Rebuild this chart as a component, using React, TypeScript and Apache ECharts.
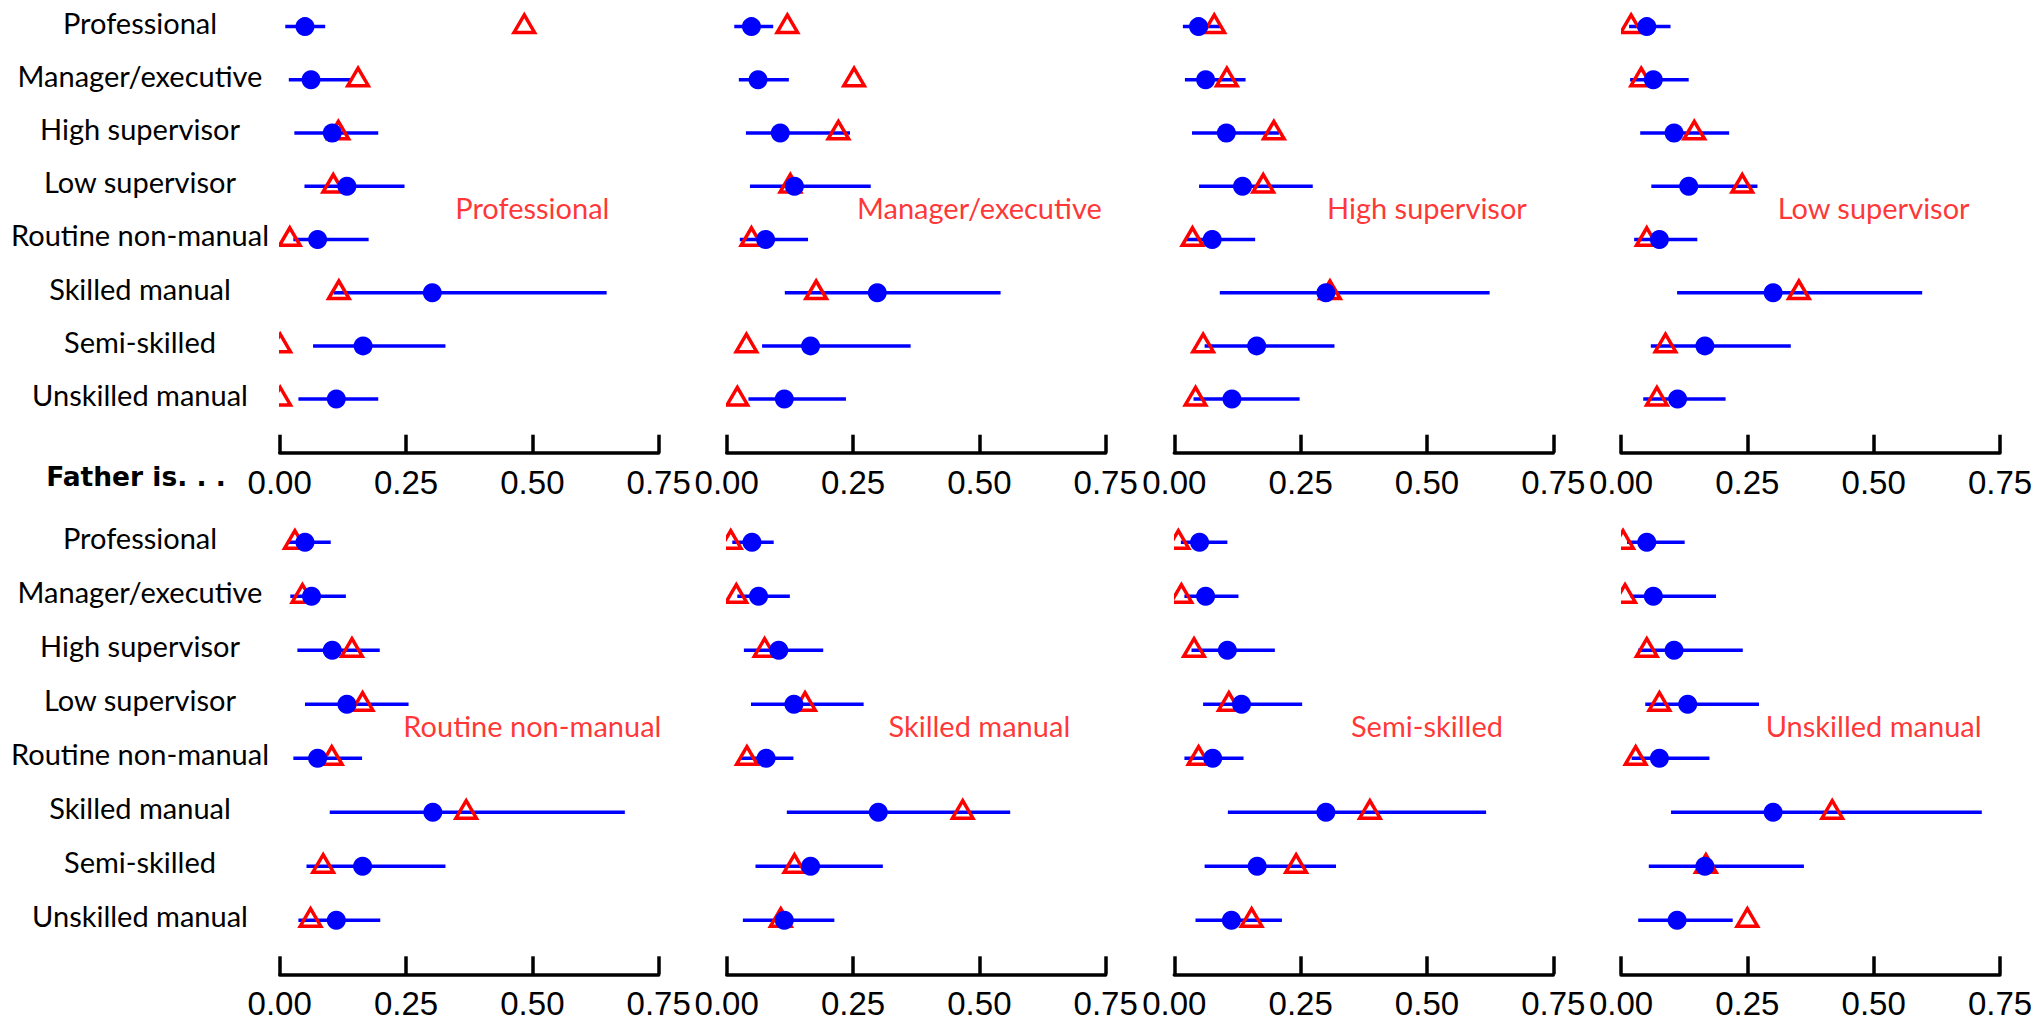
import React, { useEffect, useRef } from "react";
import * as echarts from "echarts";

// Occupational categories (rows) and panel titles (father's occupation)
const categories = [
  "Professional",
  "Manager/executive",
  "High supervisor",
  "Low supervisor",
  "Routine non-manual",
  "Skilled manual",
  "Semi-skilled",
  "Unskilled manual",
];
const panelTitles = categories;
const axisLabelText = "Father is. . .";
const xTicks = [0, 0.25, 0.5, 0.75];

// Blue dots (point estimates), one array per panel
const dotValues: number[][] = [
  [0.050, 0.062, 0.104, 0.133, 0.075, 0.302, 0.165, 0.112],
  [0.049, 0.062, 0.106, 0.134, 0.077, 0.298, 0.166, 0.114],
  [0.048, 0.062, 0.103, 0.135, 0.075, 0.300, 0.163, 0.114],
  [0.051, 0.064, 0.105, 0.134, 0.076, 0.301, 0.166, 0.112],
  [0.050, 0.063, 0.104, 0.133, 0.075, 0.303, 0.164, 0.112],
  [0.050, 0.063, 0.103, 0.133, 0.078, 0.300, 0.166, 0.114],
  [0.050, 0.062, 0.105, 0.133, 0.076, 0.300, 0.164, 0.113],
  [0.051, 0.064, 0.105, 0.132, 0.076, 0.301, 0.166, 0.111],
];
// Interval lower bounds
const lowerBounds: number[][] = [
  [0.011, 0.018, 0.029, 0.049, 0.027, 0.107, 0.066, 0.037],
  [0.015, 0.024, 0.038, 0.046, 0.026, 0.115, 0.070, 0.043],
  [0.017, 0.021, 0.035, 0.049, 0.024, 0.090, 0.060, 0.038],
  [0.016, 0.018, 0.038, 0.060, 0.026, 0.111, 0.059, 0.044],
  [0.015, 0.021, 0.035, 0.050, 0.027, 0.099, 0.053, 0.037],
  [0.011, 0.021, 0.034, 0.048, 0.026, 0.119, 0.057, 0.032],
  [0.013, 0.020, 0.034, 0.057, 0.020, 0.106, 0.060, 0.042],
  [0.012, 0.019, 0.034, 0.048, 0.021, 0.099, 0.055, 0.034],
];
// Interval upper bounds
const upperBounds: number[][] = [
  [0.090, 0.140, 0.195, 0.247, 0.176, 0.647, 0.328, 0.195],
  [0.092, 0.123, 0.244, 0.285, 0.161, 0.542, 0.364, 0.236],
  [0.092, 0.141, 0.207, 0.274, 0.160, 0.624, 0.317, 0.248],
  [0.098, 0.134, 0.214, 0.270, 0.151, 0.596, 0.336, 0.207],
  [0.101, 0.131, 0.198, 0.255, 0.163, 0.683, 0.328, 0.199],
  [0.093, 0.125, 0.191, 0.271, 0.132, 0.561, 0.309, 0.213],
  [0.105, 0.127, 0.199, 0.253, 0.137, 0.617, 0.320, 0.213],
  [0.126, 0.188, 0.241, 0.273, 0.175, 0.714, 0.362, 0.221],
];
// Red triangles (observed)
const triangleValues: number[][] = [
  [0.484, 0.155, 0.116, 0.106, 0.020, 0.117, 0.001, 0.001],
  [0.120, 0.252, 0.221, 0.126, 0.049, 0.177, 0.039, 0.021],
  [0.079, 0.104, 0.197, 0.176, 0.036, 0.308, 0.057, 0.042],
  [0.020, 0.040, 0.145, 0.240, 0.051, 0.352, 0.088, 0.071],
  [0.030, 0.045, 0.143, 0.164, 0.103, 0.369, 0.086, 0.061],
  [0.008, 0.019, 0.075, 0.155, 0.040, 0.467, 0.134, 0.107],
  [0.008, 0.014, 0.039, 0.108, 0.048, 0.387, 0.241, 0.153],
  [0.004, 0.008, 0.051, 0.076, 0.029, 0.418, 0.168, 0.250],
];

const BLUE = "#0000ff";
const RED = "#ff0000";
const LABEL_FONT = "Lato, 'Liberation Sans', sans-serif";
const BOLD_FONT = "'DejaVu Sans', 'Liberation Sans', sans-serif";
const TICK_FONT = "'Liberation Sans', Arial, sans-serif";

const gridLefts = [279.7, 726.7, 1174.3, 1621];
const gridTops = [-6.3, 515.3];
const gridWidth = 379;
const rowBand = 54;
const TRI_W = 20.5;
const TRI_H = 17.5;

function buildOption() {
  const grid: any[] = [];
  const xAxis: any[] = [];
  const yAxis: any[] = [];
  const series: any[] = [];

  for (let p = 0; p < 8; p++) {
    const row = Math.floor(p / 4);
    const col = p % 4;
    const left = gridLefts[col];
    grid.push({
      left,
      top: gridTops[row],
      width: gridWidth,
      height: rowBand * categories.length,
      containLabel: false,
    });
    xAxis.push({
      type: "value",
      gridIndex: p,
      min: xTicks[0],
      max: xTicks[xTicks.length - 1],
      interval: 0.25,
      offset: 27,
      splitLine: { show: false },
      axisLine: { show: true, lineStyle: { color: "#000", width: 3.5 } },
      axisTick: { show: true, inside: true, length: 18, lineStyle: { color: "#000", width: 3.5 } },
      axisLabel: {
        show: true,
        margin: 13,
        color: "#000",
        fontSize: 33,
        fontFamily: TICK_FONT,
        formatter: (v: number) => v.toFixed(2),
      },
    });
    yAxis.push({
      type: "category",
      gridIndex: p,
      data: categories,
      inverse: true,
      boundaryGap: true,
      axisLine: { show: false },
      axisTick: { show: false },
      splitLine: { show: false },
      axisLabel: {
        show: col === 0,
        align: "center",
        verticalAlign: "bottom",
        lineHeight: 9,
        margin: left - 140,
        color: "#000",
        fontSize: 29,
        fontFamily: LABEL_FONT,
      },
    });

    // interval whiskers
    series.push({
      type: "custom",
      xAxisIndex: p,
      yAxisIndex: p,
      clip: true,
      silent: true,
      encode: { x: [0, 1], y: 2 },
      data: categories.map((_, i) => [lowerBounds[p][i], upperBounds[p][i], i]),
      renderItem: (params: any, api: any) => {
        const y = api.value(2);
        const a = api.coord([api.value(0), y]);
        const b = api.coord([api.value(1), y]);
        return {
          type: "line",
          shape: { x1: a[0], y1: a[1], x2: b[0], y2: b[1] },
          style: { stroke: BLUE, lineWidth: 3.5, lineCap: "butt" },
        };
      },
    });
    // blue dots
    series.push({
      type: "scatter",
      xAxisIndex: p,
      yAxisIndex: p,
      clip: true,
      silent: true,
      symbol: "circle",
      symbolSize: 19,
      itemStyle: { color: BLUE, opacity: 1 },
      data: categories.map((_, i) => [dotValues[p][i], i]),
    });
    // red open triangles (clipped to the plot region)
    series.push({
      type: "custom",
      xAxisIndex: p,
      yAxisIndex: p,
      clip: true,
      silent: true,
      encode: { x: 0, y: 1 },
      data: categories.map((_, i) => [triangleValues[p][i], i]),
      renderItem: (params: any, api: any) => {
        const c = api.coord([api.value(0), api.value(1)]);
        const cx = c[0];
        const cy = c[1];
        return {
          type: "polygon",
          shape: {
            points: [
              [cx, cy - (2 * TRI_H) / 3],
              [cx + TRI_W / 2, cy + TRI_H / 3],
              [cx - TRI_W / 2, cy + TRI_H / 3],
            ],
          },
          style: { fill: "none", stroke: RED, lineWidth: 3.5, lineJoin: "miter" },
        };
      },
    });
    // panel title
    series.push({
      type: "scatter",
      xAxisIndex: p,
      yAxisIndex: p,
      clip: false,
      silent: true,
      symbol: "circle",
      symbolSize: 1,
      itemStyle: { color: "rgba(0,0,0,0)" },
      label: {
        show: true,
        position: "inside",
        offset: [0, rowBand / 2 - 6],
        formatter: panelTitles[p],
        color: RED,
        fontSize: 29,
        fontFamily: LABEL_FONT,
      },
      data: [[0.5, 3]],
    });
  }

  return {
    animation: false,
    backgroundColor: "#ffffff",
    grid,
    xAxis,
    yAxis,
    series,
    graphic: [
      {
        type: "text",
        x: 136,
        y: 476,
        style: {
          text: axisLabelText,
          fontSize: 26.5,
          fontWeight: "bold",
          fontFamily: BOLD_FONT,
          fill: "#000",
          align: "center",
          verticalAlign: "middle",
        },
      },
    ],
  };
}

export default function App() {
  const ref = useRef<HTMLDivElement>(null);
  useEffect(() => {
    if (!ref.current) return;
    const chart = echarts.init(ref.current, undefined, { renderer: "svg" });
    chart.setOption(buildOption() as any);
    return () => chart.dispose();
  }, []);
  return (
    <div
      ref={ref}
      style={{ position: "fixed", left: 0, top: 0, width: 2038, height: 1023, background: "#fff" }}
    />
  );
}
